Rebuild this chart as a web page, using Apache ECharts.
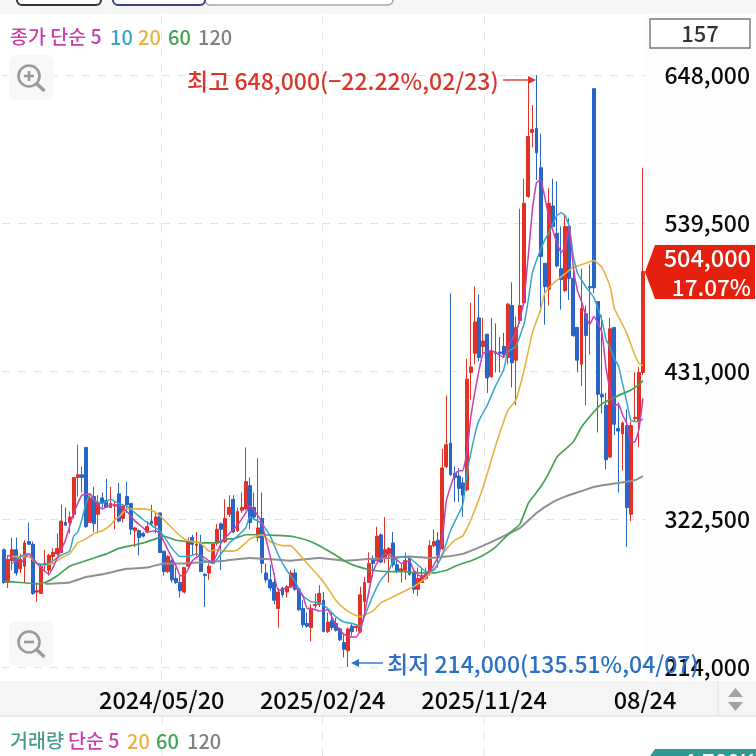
<!DOCTYPE html>
<html><head><meta charset="utf-8">
<style>html,body{margin:0;padding:0;background:#fff}#c{width:756px;height:756px}</style>
<script src="https://cdn.jsdelivr.net/npm/echarts@6/dist/echarts.min.js"></script>
</head><body><div id="c"></div>
<script>
// weekly candles, thousand won: [open, close, low, high]
const candles = [
[300,276,275,301],[276,293,272,296],[292,300,285,309],[300,283,281,309],[286,293,283,297],[288,305,276,307],[306,304,304,320],[304,268,267,306],[269,270,262,276],[268,288,268,289],
[289,290,284,300],[285,296,281,297],[295,298,290,301],[297,301,296,312],[298,321,298,333],[320,318,318,331],[320,324,312,328],[326,353,323,353],[353,355,339,377],[355,353,342,361],
[375,317,316,375],[320,338,320,340],[339,319,313,346],[326,334,312,340],[338,334,331,342],[336,331,331,352],[331,334,331,346],[332,333,315,335],[341,321,320,349],[323,332,320,333],
[339,333,327,350],[334,315,311,334],[314,316,302,317],[314,309,296,315],[312,310,309,313],[313,317,312,321],[321,319,318,333],[318,324,312,328],[327,298,298,327],[299,284,281,299],
[284,295,283,296],[292,278,276,293],[279,276,275,287],[276,270,265,281],[269,287,268,287],[288,306,287,309],[309,304,296,311],[303,304,295,313],[305,284,284,311],[282,281,258,283],
[283,288,278,290],[290,304,290,305],[305,315,303,319],[319,315,285,320],[306,323,305,337],[326,331,324,340],[337,313,312,340],[314,328,313,331],[329,331,327,342],[330,350,329,375],
[347,320,315,353],[331,324,322,342],[309,316,306,367],[323,290,283,342],[283,278,276,290],[278,272,270,289],[276,263,260,283],[257,269,243,272],[272,267,265,273],[269,273,265,274],
[273,283,272,285],[283,271,270,286],[271,256,255,272],[257,245,243,263],[246,244,243,254],[243,257,233,260],[259,260,257,268],[260,268,258,274],[263,240,240,269],[240,247,239,254],
[248,243,241,254],[246,241,240,250],[242,234,233,243],[232,227,221,239],[226,242,214,243],[244,240,237,246],[243,244,240,245],[240,267,239,273],[262,276,254,280],[276,290,276,298],
[293,290,280,296],[292,310,292,317],[311,291,290,312],[294,300,290,324],[297,301,276,302],[305,289,287,313],[289,284,283,295],[284,286,276,290],[285,292,278,298],[294,282,281,295],
[283,271,268,284],[271,279,266,287],[276,281,276,287],[279,282,278,287],[284,303,281,307],[303,306,302,315],[307,296,287,313],[301,360,300,374],[361,377,360,413],[378,355,354,488],
[356,353,335,361],[354,345,335,360],[349,340,324,353],[344,425,343,440],[430,434,410,481],[444,467,436,493],[470,441,438,487],[449,453,444,470],[458,426,415,458],[427,446,426,470],
[445,444,430,466],[445,444,430,456],[449,443,441,459],[441,480,436,481],[479,437,419,496],[439,463,406,471],[468,479,466,550],[481,554,479,572],[559,603,558,644],[606,608,595,626],
[609,591,571,648],[580,515,474,605],[510,493,465,510],[491,554,479,565],[552,537,537,572],[532,508,507,570],[506,498,476,537],[490,537,489,545],[537,499,483,543],[499,457,456,507],
[463,439,430,463],[436,477,420,506],[473,457,406,479],[493,492,443,509],[638,492,488,638],[482,414,386,482],[414,412,400,472],[406,366,359,415],[368,462,367,470],[463,392,384,463],
[389,387,342,408],[385,393,358,394],[391,331,302,403],[326,391,321,394],[396,397,394,430],[394,430,375,434],[430,504,428,580]
];
// moving averages: [candle index, thousand won]
const ma5 = [[1,296],[4,290],[6,297],[8,290],[11,282],[13,294],[15,307],[17,327],[19,340],[21,341],[23,332],[24,330],[26,333],[28,332],[30,328],[32,321],[34,316],[35,313],[37,314],[38,312],[40,300],[42,288],[43,281],[44,281],[46,292],[48,296],[50,292],[51,291],[53,305],[55,312],[57,318],[59,327],[60,332],[62,325],[63,319],[65,295],[67,270],[69,272],[71,273],[73,266],[74,257],[75,257],[77,255],[79,256],[81,245],[83,238],[85,236],[86,236],[87,241],[88,253],[90,283],[91,290],[93,297],[95,295],[97,290],[99,292],[100,285],[102,280],[104,284],[106,295],[107,307],[108,336],[110,355],[111,358],[112,358],[113,371],[114,398],[116,432],[117,444],[119,446],[122,441],[123,449],[125,459],[126,470],[127,483],[129,549],[130,569],[131,571],[132,559],[133,544],[134,534],[135,525],[136,518],[137,522],[138,537],[139,507],[140,490],[141,482],[142,472],[143,465],[144,471],[145,466],[146,459],[147,433],[148,417],[149,405],[150,407],[151,399],[152,393],[153,379],[154,379],[155,388],[156,411]];
const ma10 = [[2,290],[4,295],[6,297],[8,290],[10,289],[12,292],[14,296],[16,299],[17,310],[18,313],[19,322],[20,334],[21,341],[22,336],[24,334],[26,337],[28,334],[30,332],[32,327],[34,322],[36,318],[38,314],[39,310],[41,301],[43,295],[45,295],[47,297],[49,292],[51,290],[53,297],[55,305],[57,310],[59,316],[60,324],[63,319],[65,310],[67,296],[69,285],[71,277],[73,266],[75,262],[77,261],[79,257],[81,251],[83,247],[85,246],[87,244],[88,251],[90,266],[92,278],[94,285],[95,292],[97,295],[99,294],[101,289],[103,284],[105,285],[107,296],[109,314],[112,333],[113,356],[115,385],[116,395],[118,406],[120,420],[122,432],[123,445],[125,449],[127,466],[128,483],[129,503],[130,512],[132,527],[133,532],[134,539],[135,545],[136,547],[137,545],[138,537],[139,515],[140,503],[142,493],[144,485],[146,468],[147,454],[148,448],[149,440],[150,435],[151,422],[152,409],[153,395],[154,394],[155,394],[156,396]];
const ma20 = [[2,295],[6,295],[8,290],[10,289],[12,290],[14,294],[16,297],[18,305],[20,308],[22,312],[24,314],[26,318],[27,322],[28,324],[30,330],[32,330],[34,330],[36,329],[38,325],[40,319],[42,313],[44,308],[46,306],[48,305],[50,299],[52,300],[54,299],[56,299],[57,300],[59,305],[60,308],[63,311],[65,306],[68,303],[70,303],[72,297],[74,290],[77,280],[79,272],[81,263],[83,257],[85,253],[87,251],[90,255],[92,261],[94,264],[96,267],[98,270],[100,273],[102,277],[104,283],[106,290],[107,297],[110,307],[112,310],[114,322],[117,346],[120,376],[123,402],[125,410],[127,432],[129,459],[131,476],[132,488],[134,495],[136,500],[139,507],[142,510],[144,512],[146,507],[148,493],[149,477],[150,471],[152,459],[154,443],[155,437],[156,435]];
const ma60 = [[0,277],[4,276],[8,275],[10,276],[13,281],[16,288],[19,291],[22,294],[25,297],[28,301],[31,303],[34,305],[37,308],[39,310],[42,307],[45,306],[49,305],[52,305],[54,308],[56,308],[59,311],[63,311],[70,310],[74,307],[77,303],[81,296],[83,292],[86,288],[90,285],[94,284],[98,284],[102,283],[105,283],[108,285],[111,289],[114,292],[117,296],[120,302],[123,311],[126,319],[128,334],[131,346],[133,356],[135,368],[139,379],[141,390],[144,401],[146,407],[150,413],[153,417],[155,421],[156,424]];
const ma120 = [[10,275],[16,276],[20,280],[24,282],[30,286],[35,287],[39,290],[44,290],[49,291],[54,292],[60,294],[70,292],[77,294],[83,292],[88,293],[94,294],[99,295],[104,294],[108,295],[112,297],[117,303],[122,310],[126,316],[130,327],[134,335],[137,339],[141,343],[144,346],[150,349],[154,351],[156,354]];
const priceTicks = [214000,322500,431000,539500,648000];
const dateTicks = [[39,'2024/05/20'],[78.3,'2025/02/24'],[117.7,'2025/11/24'],[157,'08/24']];
const categories = candles.map((_,i)=>String(i));

const font = '"Noto Sans CJK KR","Noto Sans",sans-serif';
const RED='#e2281c', BLUE='#1f5fc6', M5='#c93fae', M10='#36a5cc', M20='#e9b23f', M60='#42a352', M120='#8f8f8f';
const thousand = a => a.map(p=>[p[0],p[1]*1000]);
const maSeries = (name,data,color,w)=>({name,type:'line',data:thousand(data),showSymbol:false,smooth:0.12,silent:true,
  lineStyle:{color,width:w},itemStyle:{color},z:3,animation:false});
const txt=(text,x,y,fill,size,extra,weight)=>({type:'text',x,y,z:20,style:Object.assign({text,fill,font:`${weight||400} ${size}px ${font}`,textVerticalAlign:'middle'},extra||{})});
const rect=(x,y,w,h,fill,extra)=>Object.assign({type:'rect',shape:{x,y,width:w,height:h},style:{fill},z:-1,silent:true},extra||{});
const line=(x1,y1,x2,y2,stroke,lw,extra)=>({type:'line',shape:{x1,y1,x2,y2},style:Object.assign({stroke,lineWidth:lw},extra||{}),z:15});
const poly=(points,fill,z)=>({type:'polygon',shape:{points},style:{fill},z:z||15});
function magnifier(cx,cy,plus){
  const c='#9a9a9a';
  const g=[
    {type:'rect',shape:{x:cx-20,y:cy-21,width:45,height:45,r:7},style:{fill:'#f7f7f7'},z:10},
    {type:'circle',shape:{cx,cy,r:10.5},style:{fill:'none',stroke:c,lineWidth:2.6},z:11},
    line(cx+8,cy+8,cx+15.5,cy+15,c,3.4),
    line(cx-5,cy,cx+5,cy,c,2.6)
  ];
  if(plus) g.push(line(cx,cy-5,cx,cy+5,c,2.6));
  return g;
}
const graphics=[
  rect(645,15,111,666,'#fdfdfd'),
  rect(0,0,756,14,'#f5f5f5'),
  {type:'rect',shape:{x:17,y:-12,width:84,height:17,r:5},style:{fill:'#fff',stroke:'#333',lineWidth:2},z:2},
  {type:'rect',shape:{x:205,y:-12,width:188,height:17,r:5},style:{fill:'#fff',stroke:'#a8a8a8',lineWidth:1.5},z:2},
  {type:'rect',shape:{x:113,y:-12,width:92,height:17,r:5},style:{fill:'#fff',stroke:'#3b4083',lineWidth:2},z:3},
  rect(0,681,756,35,'#f5f5f5',{z:0}),
  line(0,716,756,716,'#e6e6e6',1.5),
  line(718,681,718,716,'#e2e2e2',1),
  poly([[735.5,688],[743,697],[728,697]],'#a2a2a2'),
  poly([[728,702],[743,702],[735.5,711]],'#a2a2a2'),
  line(162,716,162,756,'#e4e4e4',1,{lineDash:[8,8]}),
  line(322.5,716,322.5,756,'#e4e4e4',1,{lineDash:[8,8]}),
  line(484,716,484,756,'#e4e4e4',1,{lineDash:[8,8]}),
  ...magnifier(29,76,true),
  ...magnifier(29,642,false),
  txt('종가 단순 5',10,37,M5,19.5,null,500),txt('10',110,37,M10,20,null,500),txt('20',138,37,M20,20,null,500),txt('60',168,37,M60,20,null,500),txt('120',198,37,'#808080',20,null,500),
  txt('거래량',10,741,'#459d90',19.5,null,500),txt('단순 5',68,741,M5,19.5,null,500),txt('20',127,741,M20,20,null,500),txt('60',156,741,M60,20,null,500),txt('120',187,741,'#808080',20,null,500),
  {type:'rect',shape:{x:650,y:19,width:100,height:29},style:{fill:'#fff',stroke:'#777',lineWidth:1.4},z:15},
  txt('157',700,34,'#333',22,{textAlign:'center'},500),
  poly([[645,272],[655,245],[755,245],[755,299],[655,299]],'#e6200f',16),
  txt('504,000',751,258,'#fff',23.5,{textAlign:'right'},500),
  txt('17.07%',751,287,'#fff',22.5,{textAlign:'right'},500),
  txt('최고 648,000(−22.22%,02/23)',187,81,'#d8382a',23,null,500),
  line(503,80,533,80,'#d8382a',1.4),
  poly([[536,80],[528,76],[528,84]],'#d8382a'),
  txt('최저 214,000(135.51%,04/07)',387,664,'#2c6fc6',23,null,500),
  line(356,663,383,663,'#2c6fc6',1.4),
  poly([[351,663],[359,659],[359,667]],'#2c6fc6'),
  {type:'polygon',shape:{points:[[655,749],[756,749],[756,756],[650,756]]},style:{fill:'#2f9a92'},z:15},
  txt('4,780K',683,762,'#fff',22,null,500)
];
const lineSplit={show:true,lineStyle:{color:'#e4e4e4',width:1,type:[8,8]}};
const option={
  animation:false,backgroundColor:'#fff',
  grid:{left:2,width:643,top:15,height:666,containLabel:false},
  xAxis:[
    {type:'category',data:categories,boundaryGap:true,axisLine:{show:false},axisTick:{show:false},axisLabel:{show:false},splitLine:{show:false}},
    {type:'value',min:0,max:157,position:'bottom',axisLine:{show:false},
     axisTick:{show:false,customValues:dateTicks.slice(0,3).map(d=>d[0])},
     splitLine:lineSplit,
     axisLabel:{show:true,customValues:dateTicks.map(d=>d[0]),margin:7,color:'#0a0a0a',fontFamily:font,fontSize:23.5,fontWeight:500,hideOverlap:false,showMinLabel:true,showMaxLabel:true,
       formatter:v=>{const f=dateTicks.find(d=>d[0]===v);return f?f[1]:'';}}}
  ],
  yAxis:{type:'value',position:'right',min:203800,max:692000,axisLine:{show:false},
    axisTick:{show:false,customValues:priceTicks},splitLine:lineSplit,
    axisLabel:{customValues:priceTicks,align:'right',margin:105,color:'#0a0a0a',fontFamily:font,fontSize:23,fontWeight:500,
      formatter:v=>Number(v).toLocaleString('en-US')}},
  graphic:graphics,
  series:[
    {name:'dates',type:'line',xAxisIndex:1,data:[],silent:true},
    {name:'candles',type:'candlestick',xAxisIndex:0,barWidth:3.4,z:2,silent:true,
     data:candles.map(c=>c.map(v=>v*1000)),
     itemStyle:{color:RED,color0:BLUE,borderColor:RED,borderColor0:BLUE,borderWidth:1,opacity:0.95}},
    maSeries('120',ma120,M120,2),
    maSeries('60',ma60,M60,1.7),
    maSeries('20',ma20,M20,1.6),
    maSeries('10',ma10,M10,1.5),
    maSeries('5',ma5,M5,1.5)
  ]
};
echarts.init(document.getElementById('c'),null,{renderer:'canvas'}).setOption(option);
</script></body></html>
